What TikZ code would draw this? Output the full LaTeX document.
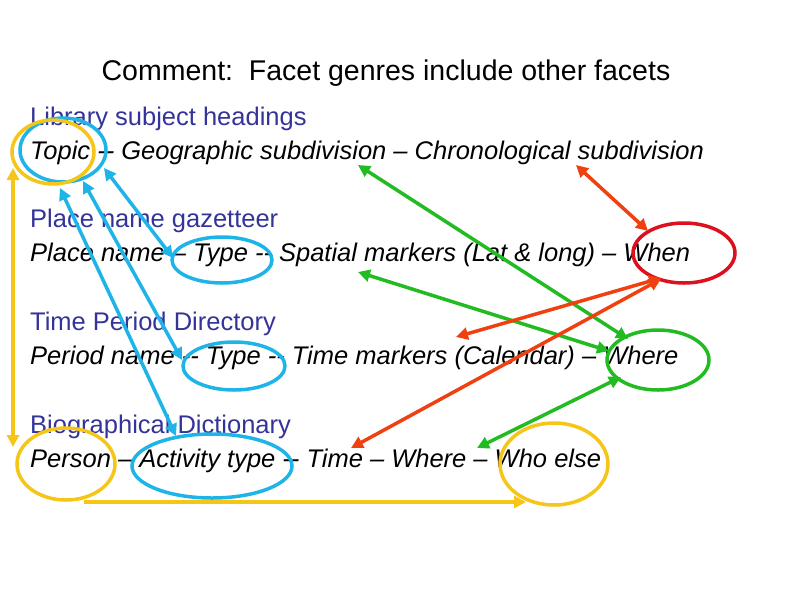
\documentclass[tikz,border=0pt]{standalone}
\usepackage{fontspec}
\setmainfont{Liberation Sans}
\usetikzlibrary{arrows.meta}
\definecolor{cy}{HTML}{F5C518}
\definecolor{cb}{HTML}{1EB4E8}
\definecolor{cg}{HTML}{22BB22}
\definecolor{cr}{HTML}{F04010}
\definecolor{crr}{HTML}{DD1020}
\definecolor{hd}{HTML}{333399}
\begin{document}
\begin{tikzpicture}[x=1pt,y=-1pt,
  hdtext/.style={anchor=base west,inner sep=0,text=hd,font=\fontsize{25.5}{30}\selectfont},
  ittext/.style={anchor=base west,inner sep=0,font=\fontsize{25.5}{30}\selectfont\itshape},
  ring/.style={draw=#1,line width=3.5pt},
  link/.style={draw=#1,line width=3.5pt,{Triangle[length=12pt,width=12pt]}-{Triangle[length=12pt,width=12pt]}},
  onelink/.style={draw=#1,line width=3.5pt,-{Triangle[length=12pt,width=12pt]}}]
\useasboundingbox (0,0) rectangle (794,595);
\node[anchor=base,inner sep=0,font=\fontsize{28.5}{33}\selectfont] (title) at (386,80) {Comment:\ \ Facet genres include other facets};
\node[hdtext] (h1) at (30,125) {Library subject headings};
\node[ittext] (l1) at (30,159) {Topic -{}- Geographic subdivision -- Chronological subdivision};
\node[hdtext] (h2) at (30,227) {Place name gazetteer};
\node[ittext] (l2) at (30,261) {Place name -- Type -{}- Spatial markers (Lat \& long) -- When};
\node[hdtext] (h3) at (30,330) {Time Period Directory};
\node[ittext] (l3) at (30,364) {Period name -{}- Type -{}- Time markers (Calendar) -- Where};
\node[hdtext] (h4) at (30,433) {Biographical Dictionary};
\node[ittext] (l4) at (30,467) {Person -- Activity type -{}- Time -- Where -- Who else};
% rings
\draw[ring=cb] (63,150) ellipse [x radius=43,y radius=32];
\draw[ring=cy] (53,152) ellipse [x radius=41,y radius=32];
\draw[ring=cb] (222,260) ellipse [x radius=50,y radius=23];
\draw[ring=cb] (234,366) ellipse [x radius=51,y radius=24];
\draw[ring=crr] (684,253) ellipse [x radius=51,y radius=30];
\draw[ring=cg] (658,360) ellipse [x radius=51,y radius=30];
\draw[ring=cy] (66,464) ellipse [x radius=49,y radius=36];
\draw[ring=cb] (212,466) ellipse [x radius=80,y radius=32];
\draw[ring=cy] (554,464) ellipse [x radius=54,y radius=41];
% endpoints
\coordinate (a1) at (13,168); \coordinate (a2) at (13,447);
\coordinate (b1) at (84,502); \coordinate (b2) at (526,502);
\coordinate (c1) at (104,168); \coordinate (c2) at (173,258);
\coordinate (d1) at (83,181); \coordinate (d2) at (182,360);
\coordinate (e1) at (60,188); \coordinate (e2) at (176,436);
\coordinate (f1) at (358,165); \coordinate (f2) at (628,339);
\coordinate (g1) at (358,272); \coordinate (g2) at (609,351);
\coordinate (k1) at (477,448); \coordinate (k2) at (621,377);
\coordinate (m1) at (576,165); \coordinate (m2) at (648,231);
\coordinate (n1) at (456,337); \coordinate (n2) at (661,278);
\coordinate (p1) at (351,448); \coordinate (p2) at (661,279);
\draw[link=cy] (a1) -- (a2);
\draw[onelink=cy] (b1) -- (b2);
\draw[link=cb] (c1) -- (c2);
\draw[link=cb] (d1) -- (d2);
\draw[link=cb] (e1) -- (e2);
\draw[link=cg] (f1) -- (f2);
\draw[link=cg] (g1) -- (g2);
\draw[link=cg] (k1) -- (k2);
\draw[link=cr] (m1) -- (m2);
\draw[link=cr] (n1) -- (n2);
\draw[link=cr] (p1) -- (p2);
\end{tikzpicture}
\end{document}
